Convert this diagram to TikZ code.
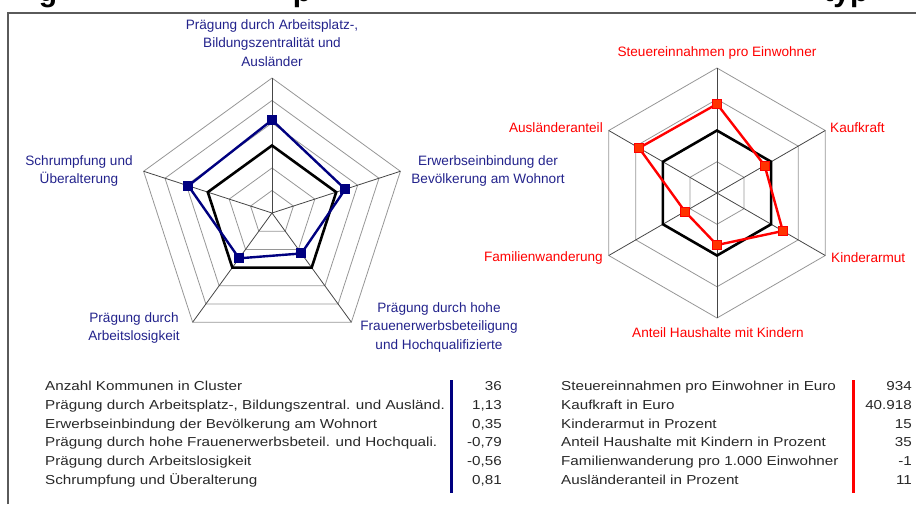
\documentclass[tikz,border=0pt]{standalone}
\usepackage{fontspec}
\setmainfont{Liberation Sans}
\newfontfamily\tabfont[FakeStretch=1.17]{Liberation Sans}
\definecolor{navyc}{RGB}{0,0,128}
\definecolor{navytxt}{RGB}{35,35,140}
\definecolor{redc}{RGB}{255,0,0}
\definecolor{redfill}{RGB}{255,51,0}
\definecolor{tabtxt}{RGB}{40,40,40}
\definecolor{ringc}{RGB}{150,150,150}
\definecolor{spokec}{RGB}{70,70,70}
\definecolor{framec}{RGB}{90,90,90}
\begin{document}
\begin{tikzpicture}[x=1pt,y=-1pt,
  ring/.style={draw=ringc, line width=0.8pt},
  spoke/.style={draw=spokec, line width=0.8pt},
  avgline/.style={draw=black, line width=2.6pt, line join=miter},
  bline/.style={draw=navyc, line width=2.4pt},
  rline/.style={draw=redc, line width=2.4pt},
  bmark/.style={rectangle, fill=navyc, minimum size=10pt, inner sep=0pt},
  rmark/.style={rectangle, fill=redfill, draw=redc, line width=1pt, minimum size=9pt, inner sep=0pt},
  blab/.style={text=navytxt, font=\fontsize{13.6}{18.5}\selectfont, align=center, inner sep=0pt},
  rlab/.style={text=redc, font=\fontsize{13.6}{18.5}\selectfont, align=center, inner sep=0pt},
  tab/.style={text=tabtxt, font=\tabfont\fontsize{13}{15}\selectfont, inner sep=0pt},
  ttl/.style={font=\bfseries\fontsize{30}{30}\selectfont, anchor=base, inner sep=0pt},
]
\useasboundingbox (0,0) rectangle (916,504);

% cut-off title fragments (the reference shows only their descenders)
\begin{scope}
  \clip (0,0) rectangle (916,9);
  \node[ttl] (t1) at (48,1) {g};
  \node[ttl] (t2) at (302,1) {p};
  \node[ttl] (t3) at (846,1) {typ};
\end{scope}

% frame
\draw[draw=framec, line width=1.6pt] (8,504) -- (8,13) -- (916,13);

% ---------- pentagon ----------
\begin{scope}[shift={(272,213)}]
  \foreach \r in {22.5,45,67.5,90,112.5,135}
    \draw[ring] (-90:\r) -- (-18:\r) -- (54:\r) -- (126:\r) -- (198:\r) -- cycle;
  \foreach \a in {-90,-18,54,126,198}
    \draw[spoke] (0,0) -- (\a:135);
  \draw[avgline] (-90:67.5) -- (-18:67.5) -- (54:67.5) -- (126:67.5) -- (198:67.5) -- cycle;
  \coordinate (p1) at (-90:93);
  \coordinate (p2) at (-18:77);
  \coordinate (p3) at (54:50);
  \coordinate (p4) at (126:56);
  \coordinate (p5) at (198:88);
  \draw[bline] (p1) -- (p2) -- (p3) -- (p4) -- (p5) -- cycle;
  \foreach \i in {1,...,5} \node[bmark] (mb\i) at (p\i) {};
\end{scope}

\node[blab] (la1) at (272,43) {Prägung durch Arbeitsplatz-,\\Bildungszentralität und\\Ausländer};
\node[blab] (la2) at (488,171) {Erwerbseinbindung der\\Bevölkerung am Wohnort};
\node[blab] (la3) at (439,327) {Prägung durch hohe\\Frauenerwerbsbeteiligung\\und Hochqualifizierte};
\node[blab] (la4) at (134,328) {Prägung durch\\Arbeitslosigkeit};
\node[blab] (la5) at (79,171) {Schrumpfung und\\Überalterung};

% ---------- hexagon ----------
\begin{scope}[shift={(717,193)}]
  \foreach \r in {31.25,62.5,93.75,125}
    \draw[ring] (-90:\r) -- (-30:\r) -- (30:\r) -- (90:\r) -- (150:\r) -- (210:\r) -- cycle;
  \foreach \a in {-90,-30,30,90,150,210}
    \draw[spoke] (0,0) -- (\a:125);
  \draw[avgline] (-90:62.5) -- (-30:62.5) -- (30:62.5) -- (90:62.5) -- (150:62.5) -- (210:62.5) -- cycle;
  \coordinate (q1) at (-90:89);
  \coordinate (q2) at (-30:55);
  \coordinate (q3) at (30:76);
  \coordinate (q4) at (90:52);
  \coordinate (q5) at (150:37);
  \coordinate (q6) at (210:90);
  \draw[rline] (q1) -- (q2) -- (q3) -- (q4) -- (q5) -- (q6) -- cycle;
  \foreach \i in {1,...,6} \node[rmark] (mr\i) at (q\i) {};
\end{scope}

\node[rlab] (lb1) at (717,52.5) {Steuereinnahmen pro Einwohner};
\node[rlab, anchor=west] (lb2) at (830,128) {Kaufkraft};
\node[rlab, anchor=west] (lb3) at (831,258) {Kinderarmut};
\node[rlab] (lb4) at (718,332.5) {Anteil Haushalte mit Kindern};
\node[rlab, anchor=east] (lb5) at (603,258) {Familienwanderung};
\node[rlab, anchor=east] (lb6) at (603,128) {Ausländeranteil};

% ---------- tables ----------
\draw[draw=navyc, line width=3pt] (451,380) -- (451,493);
\draw[draw=redc, line width=3pt] (853,380) -- (853,493);

\foreach \t [count=\i from 0] in {Anzahl Kommunen in Cluster,
  {Prägung durch Arbeitsplatz-, Bildungszentral. und Ausländ.},
  Erwerbseinbindung der Bevölkerung am Wohnort,
  Prägung durch hohe Frauenerwerbsbeteil. und Hochquali.,
  Prägung durch Arbeitslosigkeit,
  Schrumpfung und Überalterung}
  \node[tab, anchor=base west] (ta\i) at (45,{390.5+18.75*\i}) {\t};

\foreach \t [count=\i from 0] in {36,{1,13},{0,35},{-0,79},{-0,56},{0,81}}
  \node[tab, anchor=base east] (va\i) at (502,{390.5+18.75*\i}) {\t};

\foreach \t [count=\i from 0] in {Steuereinnahmen pro Einwohner in Euro,
  Kaufkraft in Euro,
  Kinderarmut in Prozent,
  Anteil Haushalte mit Kindern in Prozent,
  Familienwanderung pro 1.000 Einwohner,
  Ausländeranteil in Prozent}
  \node[tab, anchor=base west] (tb\i) at (561,{390.5+18.75*\i}) {\t};

\foreach \t [count=\i from 0] in {934,40.918,15,35,-1,11}
  \node[tab, anchor=base east] (vb\i) at (912,{390.5+18.75*\i}) {\t};
\end{tikzpicture}
\end{document}
